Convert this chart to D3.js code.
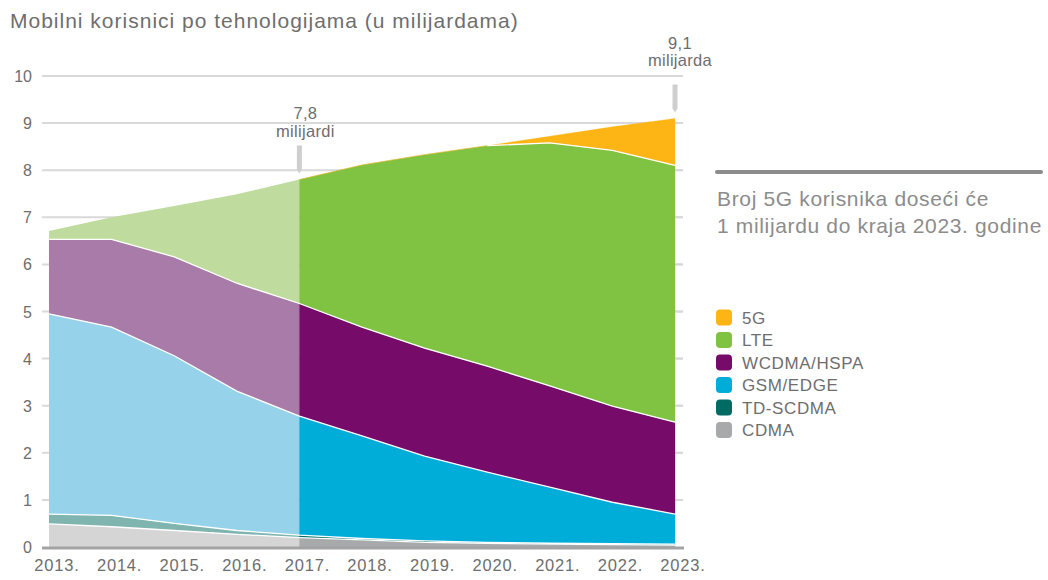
<!DOCTYPE html>
<html>
<head>
<meta charset="utf-8">
<script src="https://cdn.jsdelivr.net/npm/d3@7"></script>
<style>
  html, body { margin: 0; padding: 0; background: #fff; }
  svg { display: block; font-family: "Liberation Sans", Arial, sans-serif; }
</style>
</head>
<body>
<svg id="chart" width="1048" height="580"></svg>
<script>
// ---- data ----
const years = [2013, 2014, 2015, 2016, 2017, 2018, 2019, 2020, 2021, 2022, 2023];
const cdma    = [0.49, 0.43, 0.35, 0.27, 0.20, 0.15, 0.10, 0.08, 0.06, 0.05, 0.04];
const tdscdma = [0.21, 0.24, 0.15, 0.08, 0.05, 0.03, 0.03, 0.02, 0.02, 0.02, 0.02];
const gsm     = [4.25, 4.00, 3.56, 2.96, 2.53, 2.18, 1.80, 1.49, 1.19, 0.88, 0.64];
const wcdma   = [1.58, 1.86, 2.10, 2.29, 2.39, 2.31, 2.29, 2.25, 2.15, 2.04, 1.95];
const lte     = [0.18, 0.47, 1.08, 1.89, 2.63, 3.44, 4.11, 4.68, 5.16, 5.43, 5.45];
const fiveG   = [0, 0, 0, 0, 0, 0, 0, 0, 0.14, 0.50, 1.00];
const seriesNames = ["CDMA", "TD-SCDMA", "GSM/EDGE", "WCDMA/HSPA", "LTE", "5G"];
const yTicks = [0, 1, 2, 3, 4, 5, 6, 7, 8, 9, 10];
const xTickLabels = ["2013.", "2014.", "2015.", "2016.", "2017.", "2018.", "2019.", "2020.", "2021.", "2022.", "2023."];
const splitYear = 2017;
const annotationYears = [2017, 2023];
const annotationTexts = [["7,8", "milijardi"], ["9,1", "milijarda"]];
const titleText = "Mobilni korisnici po tehnologijama (u milijardama)";
const noteLines = ["Broj 5G korisnika doseći će", "1 milijardu do kraja 2023. godine"];

// ---- styles / layout ----
const darkColors  = { "CDMA": "#a8a9ab", "TD-SCDMA": "#006b62", "GSM/EDGE": "#00acd8", "WCDMA/HSPA": "#760b69", "LTE": "#80c242", "5G": "#fdb516" };
const lightColors = { "CDMA": "#d5d5d6", "TD-SCDMA": "#7fb4af", "GSM/EDGE": "#96d3eb", "WCDMA/HSPA": "#a97ba8", "LTE": "#bfdc9e", "5G": "#fdda8a" };
const textColor = "#6e6e6e";
const annotationLayout = [
  { textTop: 61, lineGap: 18, barTop: 34, barBottom: 6, dx: 6 },
  { textTop: 69, lineGap: 17, barTop: 34, barBottom: 6, dx: 5 }
];

const table = years.map((y, i) => ({
  year: y, "CDMA": cdma[i], "TD-SCDMA": tdscdma[i], "GSM/EDGE": gsm[i],
  "WCDMA/HSPA": wcdma[i], "LTE": lte[i], "5G": fiveG[i]
}));

const svg = d3.select("#chart");
const x = d3.scaleLinear().domain([2013, 2023]).range([49, 675]);
const y = d3.scaleLinear().domain([0, 10]).range([547, 76]);

// gridlines
svg.append("g").selectAll("line").data(yTicks.filter(d => d > 0)).join("line")
  .attr("x1", 42).attr("x2", 683)
  .attr("y1", d => y(d)).attr("y2", d => y(d))
  .attr("stroke", "#d9d9d9").attr("stroke-width", 2);

const stack = d3.stack().keys(seriesNames);
const layers = stack(table);

const area = d3.area()
  .x(d => x(d.data.year)).y0(d => y(d[0])).y1(d => y(d[1]));

// light (historic) part
const gLight = svg.append("g");
layers.forEach(layer => {
  const pts = layer.filter(d => d.data.year <= splitYear);
  gLight.append("path").datum(pts).attr("d", area)
    .attr("fill", lightColors[layer.key]);
});
// dark (forecast) part
const gDark = svg.append("g");
layers.forEach(layer => {
  const pts = layer.filter(d => d.data.year >= splitYear);
  gDark.append("path").datum(pts).attr("d", area)
    .attr("fill", darkColors[layer.key]).attr("stroke", darkColors[layer.key]).attr("stroke-width", 0.3);
});
// white separator lines
const topLine = d3.line().x(d => x(d.data.year)).y(d => y(d[1]));
layers.slice(0, 4).forEach(layer => {
  svg.append("path").datum(layer).attr("d", topLine)
    .attr("fill", "none").attr("stroke", "#ffffff").attr("stroke-width", 1.3);
});
const lteLayer = layers[4].filter(d => d.data.year >= 2020);
svg.append("path").datum(lteLayer).attr("d", topLine)
  .attr("fill", "none").attr("stroke", "#ffffff").attr("stroke-width", 1.3);

// right-edge tick stubs
svg.append("g").selectAll("line").data(yTicks.filter(d => d > 0)).join("line")
  .attr("x1", 676).attr("x2", 683)
  .attr("y1", d => y(d)).attr("y2", d => y(d))
  .attr("stroke", "#d9d9d9").attr("stroke-width", 2);

// baseline
svg.append("line").attr("x1", 42).attr("x2", 684).attr("y1", y(0) + 1).attr("y2", y(0) + 1)
  .attr("stroke", "#a3a3a3").attr("stroke-width", 3);

// y labels
svg.append("g").selectAll("text").data(yTicks).join("text")
  .attr("x", 32).attr("y", d => y(d) + 6)
  .attr("text-anchor", "end").attr("font-size", 16).attr("fill", textColor)
  .text(d => d);

// x labels
svg.append("g").selectAll("text").data(years).join("text")
  .attr("x", d => x(d) + 8).attr("y", 571)
  .attr("text-anchor", "middle").attr("font-size", 16.5).attr("letter-spacing", 0.8).attr("fill", textColor)
  .text((d, i) => xTickLabels[i]);

// title
svg.append("text").attr("x", 10).attr("y", 28)
  .attr("font-size", 21).attr("letter-spacing", 1).attr("fill", textColor).text(titleText);

// annotations
const totals = table.map(d => seriesNames.reduce((s, k) => s + d[k], 0));
annotationYears.forEach((yr, a) => {
  const i = years.indexOf(yr);
  const L = annotationLayout[a];
  const top = y(totals[i]);
  const cx = x(yr);
  svg.append("path")
    .attr("d", `M${cx - 2.5},${top - L.barTop} L${cx + 2.5},${top - L.barTop} L${cx + 2.5},${top - L.barBottom - 4} L${cx},${top - L.barBottom} L${cx - 2.5},${top - L.barBottom - 4} Z`)
    .attr("fill", "#cfcfcf");
  annotationTexts[a].forEach((t, j) => {
    svg.append("text").attr("x", cx + L.dx).attr("y", top - L.textTop + j * L.lineGap)
      .attr("text-anchor", "middle").attr("font-size", 16.5).attr("letter-spacing", 0.3).attr("fill", textColor).text(t);
  });
});

// note on the right
svg.append("line").attr("x1", 717).attr("x2", 1041).attr("y1", 172).attr("y2", 172)
  .attr("stroke", "#8c8c8c").attr("stroke-width", 4).attr("stroke-linecap", "round");
noteLines.forEach((t, j) => {
  svg.append("text").attr("x", 717).attr("y", 206 + j * 27)
    .attr("font-size", 21).attr("letter-spacing", 0.65).attr("fill", "#8c8c8c").text(t);
});

// legend
const legendOrder = seriesNames.slice().reverse();
const lg = svg.append("g");
legendOrder.forEach((k, i) => {
  const cy = 317.5 + i * 22.5;
  lg.append("rect").attr("x", 716).attr("y", cy - 8).attr("width", 16).attr("height", 16)
    .attr("rx", 4).attr("fill", darkColors[k]);
  lg.append("text").attr("x", 742).attr("y", cy + 6)
    .attr("font-size", 17).attr("letter-spacing", 0.6).attr("fill", textColor).text(k);
});
</script>
</body>
</html>
